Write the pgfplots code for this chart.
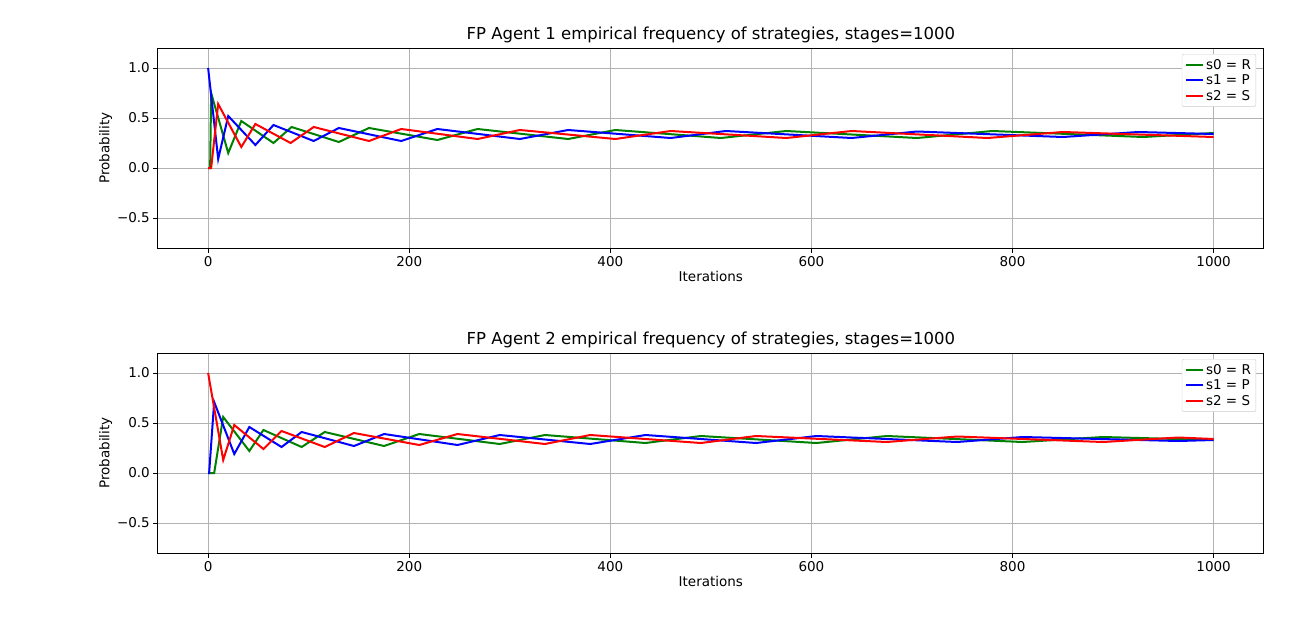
\documentclass[border=0pt]{standalone}
\usepackage{pgfplots}
\pgfplotsset{compat=1.18}
\usepackage{fontspec}
\setmainfont{DejaVu Sans}
\definecolor{mgreen}{RGB}{0,128,0}
\definecolor{mblue}{RGB}{0,0,255}
\definecolor{mred}{RGB}{255,0,0}
\pgfplotsset{fpstyle/.style={scale only axis, width=1106pt, height=200pt,
 xmin=-50, xmax=1050, ymin=-0.8, ymax=1.2,
 xtick={0,200,400,600,800,1000}, xticklabels={0,200,400,600,800,1000},
 ytick={-0.5,0,0.5,1.0}, yticklabels={−0.5,0.0,0.5,1.0},
 xtick pos=bottom, ytick pos=left,
 grid=major, grid style={gray!60, line width=0.8pt},
 tick label style={font=\fontsize{13.5}{16}\selectfont},
 label style={font=\fontsize{13.5}{16}\selectfont},
 xlabel style={yshift=2pt}, ylabel style={yshift=-2pt},
 title style={font=\fontsize{16.5}{19}\selectfont, yshift=-4pt},
 xlabel={Iterations}, ylabel={Probability},
 tick align=outside, tick style={black, line width=0.8pt}, major tick length=4.5pt,
 legend pos=north east, legend cell align=left,
 legend style={font=\fontsize{13.5}{16}\selectfont, draw=gray!40, rounded corners=2pt, inner sep=3pt, at={(0.993,0.97)}},
 axis line style={black, line width=0.8pt}}}
\begin{document}
\begin{tikzpicture}[x=1pt,y=1pt]
\useasboundingbox (0,0) rectangle (1292,-629);
\begin{axis}[fpstyle, at={(157,-248)}, anchor=south west,
 title={FP Agent 1 empirical frequency of strategies, stages=1000}]
\addplot[color=mgreen, line width=2pt, no marks] coordinates {(0,0)(2,0)(3,0.75)(20,0.15)(33,0.47)(65,0.25)(83,0.41)(130,0.26)(160,0.40)(228,0.28)(268,0.39)(358,0.29)(405,0.38)(510,0.30)(575,0.37)(705,0.30)(780,0.37)(930,0.31)(1000,0.35)};
\addlegendentry{s0 = R}
\addplot[color=mblue, line width=2pt, no marks] coordinates {(0,1)(10,0.09)(20,0.52)(47,0.23)(65,0.43)(105,0.27)(130,0.40)(192,0.27)(228,0.39)(310,0.29)(358,0.38)(460,0.30)(515,0.37)(640,0.30)(705,0.365)(850,0.31)(925,0.36)(1000,0.34)};
\addlegendentry{s1 = P}
\addplot[color=mred, line width=2pt, no marks] coordinates {(0,0)(3,0)(10,0.64)(33,0.21)(47,0.44)(82,0.25)(105,0.41)(160,0.27)(192,0.39)(268,0.29)(310,0.38)(405,0.29)(460,0.37)(575,0.30)(640,0.37)(775,0.30)(850,0.36)(1000,0.31)};
\addlegendentry{s2 = S}
\end{axis}
\begin{axis}[fpstyle, at={(157,-553)}, anchor=south west,
 title={FP Agent 2 empirical frequency of strategies, stages=1000}]
\addplot[color=mgreen, line width=2pt, no marks] coordinates {(0,0)(6,0)(15,0.56)(41,0.22)(55,0.43)(93,0.26)(116,0.41)(175,0.27)(210,0.39)(290,0.29)(335,0.38)(435,0.30)(490,0.37)(605,0.30)(675,0.37)(810,0.31)(890,0.36)(1000,0.33)};
\addlegendentry{s0 = R}
\addplot[color=mblue, line width=2pt, no marks] coordinates {(0,0)(1,0)(6,0.71)(26,0.19)(41,0.46)(73,0.26)(93,0.41)(145,0.27)(175,0.39)(248,0.28)(290,0.38)(380,0.29)(435,0.38)(545,0.30)(605,0.37)(745,0.31)(810,0.36)(965,0.32)(1000,0.33)};
\addlegendentry{s1 = P}
\addplot[color=mred, line width=2pt, no marks] coordinates {(0,1)(15,0.13)(26,0.48)(55,0.24)(73,0.42)(116,0.26)(145,0.40)(210,0.28)(248,0.39)(335,0.29)(380,0.38)(490,0.30)(545,0.37)(675,0.31)(745,0.365)(890,0.31)(965,0.355)(1000,0.34)};
\addlegendentry{s2 = S}
\end{axis}
\end{tikzpicture}
\end{document}
